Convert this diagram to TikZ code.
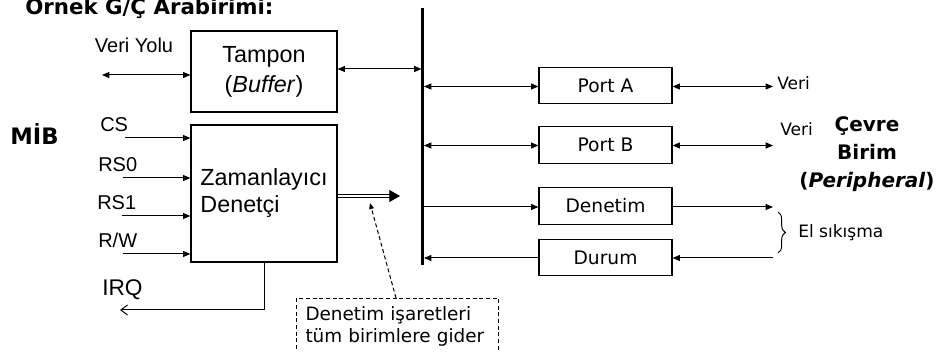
\documentclass[tikz,border=0pt]{standalone}
\usepackage{fontspec}
\setmainfont{Liberation Sans}
\newfontfamily\cfont{DejaVu Sans}
\newfontfamily\pfont{DejaVu Sans}
\usetikzlibrary{arrows.meta,decorations.pathreplacing,calc}

\begin{document}
\begin{tikzpicture}[x=0.75pt,y=-0.75pt,
  box/.style={draw, line width=0.9pt, inner sep=0pt, align=center},
  pbox/.style={box, minimum width=99.75pt, minimum height=27.4pt,
    font=\pfont\fontsize{14}{16}\selectfont},
  wire/.style={line width=0.75pt, >={Triangle[length=5.5pt,width=4.5pt]}},
  lbl/.style={inner sep=0pt, font=\fontsize{15}{18}\selectfont},
  clbl/.style={inner sep=0pt, font=\cfont\fontsize{12.8}{15.75}\selectfont},
  hdr/.style={inner sep=0pt, font=\cfont\bfseries\fontsize{15}{21}\selectfont},
  dbl/.style={double, double distance=1.7pt, line width=0.55pt,
    -{Triangle[length=8pt,width=9pt]}},
  notebox/.style={draw, line width=0.75pt, dash pattern=on 3pt off 2pt,
    inner xsep=6.75pt, inner ysep=0pt, text width=138pt, align=left,
    font=\cfont\fontsize{13.8}{16}\selectfont}
]
\useasboundingbox (0,0) rectangle (938,352);
\clip (0,0) rectangle (938,352);

% heading and side labels
\node[hdr, anchor=base west, font=\cfont\bfseries\fontsize{16}{20}\selectfont]
  (title) at (25,15) {Örnek G/Ç Arabirimi:};
\node[hdr, anchor=base west, font=\cfont\bfseries\fontsize{17}{20}\selectfont]
  (cpu) at (10,145) {MİB};
\node[hdr, align=center] (periph) at (867,154)
  {Çevre\\Birim\\(\textit{Peripheral})};

% buffer and timer/controller blocks
\node[box, minimum width=109.5pt, minimum height=60.75pt,
  font=\fontsize{17.5}{22.5}\selectfont] (buf) at (264,71.5)
  {Tampon\\(\textit{Buffer})};
\node[box, minimum width=109.5pt, minimum height=102.75pt, align=left,
  font=\fontsize{17.5}{20.25}\selectfont] (ctl) at (264,193.5)
  {Zamanlayıcı\\Denetçi};

% port, control and status registers
\node[pbox] (pa) at (605.5,85.5) {Port A};
\node[pbox] (pb) at (605.5,145) {Port B};
\node[pbox] (den) at (605.5,206) {Denetim};
\node[pbox] (dur) at (605.5,257.5) {Durum};

% system bus
\coordinate (bustop) at (422.7,8);
\coordinate (busbot) at (422.7,265);
\draw[line width=1.9pt] (bustop) -- (busbot);

% CPU side signals
\node[lbl] (vylbl) at (134,45) {Veri Yolu};
\coordinate (vy) at (102,75);
\draw[wire,<->] (vy) -- (vy -| buf.west);
\coordinate (bA) at (421.5,69);
\draw[wire,<->] (bA -| buf.east) -- (bA);

\node[lbl, anchor=west] (cslbl) at (100,125) {CS};
\node[lbl, anchor=west] (rs0lbl) at (98,165) {RS0};
\node[lbl, anchor=west] (rs1lbl) at (97,203) {RS1};
\node[lbl, anchor=west] (rwlbl) at (98,240) {R/W};
\coordinate (cs) at (125,138);
\coordinate (rs0) at (123,178);
\coordinate (rs1) at (122,216);
\coordinate (rw) at (123,254);
\foreach \s in {cs,rs0,rs1,rw}
  \draw[wire,->] (\s) -- (\s -| ctl.west);

\node[lbl, anchor=west, font=\fontsize{17}{20}\selectfont] (irqlbl) at (102,290) {IRQ};
\coordinate (irq) at (120,310);
\draw[line width=0.75pt, -{Straight Barb[length=5pt,width=7.5pt]}]
  (ctl.south) |- (irq);

% control lines leaving the controller
\coordinate (dtip) at (400,196);
\draw[dbl] (dtip -| ctl.east) -- (dtip);

% bus taps
\coordinate (tA) at (424,86.5);
\coordinate (tB) at (424,145.5);
\coordinate (tD) at (424,207);
\coordinate (tU) at (424,258);
\draw[wire,<->] (tA) -- (tA -| pa.west);
\draw[wire,<->] (tB) -- (tB -| pb.west);
\draw[wire,->] (tD) -- (tD -| den.west);
\draw[wire,->] (tU -| dur.west) -- (tU);

% peripheral side
\coordinate (vA) at (773,86.5);
\coordinate (vB) at (773,145.5);
\coordinate (hD) at (773,207);
\coordinate (hU) at (773,258);
\draw[wire,<->] (vA -| pa.east) -- (vA);
\draw[wire,<->] (vB -| pb.east) -- (vB);
\draw[wire,->] (hD -| den.east) -- (hD);
\draw[wire,->] (hU) -- (hU -| dur.east);
\node[clbl, anchor=west] (veriA) at (777,83) {Veri};
\node[clbl, anchor=west] (veriB) at (780,129) {Veri};

\coordinate (brtop) at (778,212);
\coordinate (brbot) at (778,253);
\draw[line width=0.7pt, decorate, decoration={brace, amplitude=5.5pt}]
  (brtop) -- (brbot);
\node[clbl, anchor=west] (hs) at (798,233) {El sıkışma};

% explanatory note
\node[notebox, anchor=north west, minimum height=42pt] (note) at (296,298)
  {Denetim işaretleri\\tüm birimlere gider};
\coordinate (nptr) at (396,298);
\coordinate (ntip) at (370,203);
\draw[line width=0.75pt, dash pattern=on 3pt off 2pt,
  -{Triangle[length=4.5pt,width=3.5pt]}] (nptr) -- (ntip);
\end{tikzpicture}
\end{document}
